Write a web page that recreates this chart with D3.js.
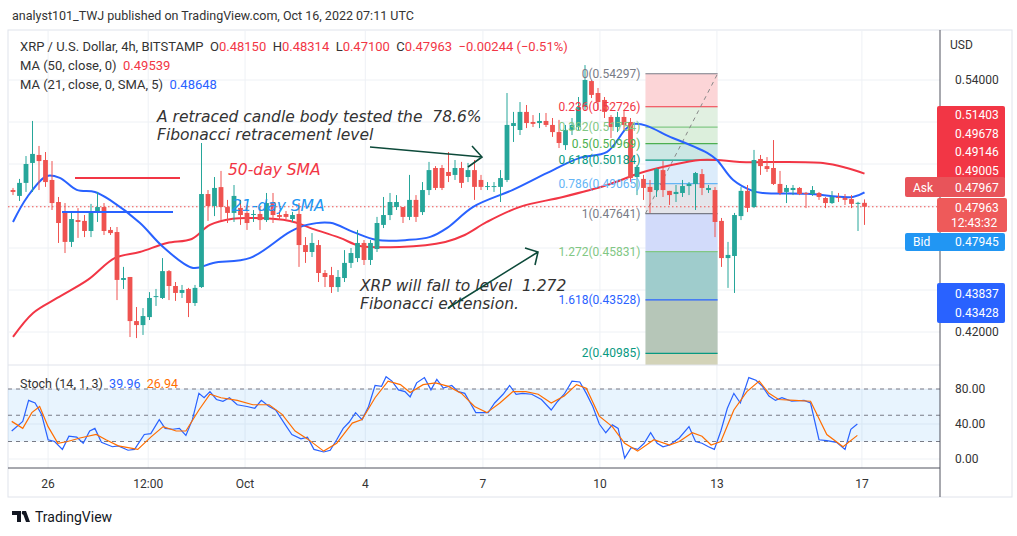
<!DOCTYPE html>
<html><head><meta charset="utf-8">
<script src="https://cdn.jsdelivr.net/npm/d3@7"></script>
<style>body{margin:0;background:#fff}svg{display:block}text{white-space:pre}</style>
</head><body>
<svg id="c" width="1017" height="536"></svg>
<script>
// ---------- DATA ----------
// 4h candles [open, high, low, close]
const candles = [
[.4876,.4886,.4852,.4867],[.4848,.4929,.4824,.4910],[.4910,.5038,.4867,.5000],[.5005,.5205,.4867,.5048],
[.5043,.5086,.4876,.5014],[.5019,.5057,.4891,.4914],[.4924,.5014,.4781,.4814],[.4819,.4843,.4624,.4719],
[.4776,.4814,.4576,.4629],[.4629,.4776,.4605,.4738],[.4733,.4790,.4648,.4724],[.4729,.4757,.4652,.4681],
[.4681,.4810,.4652,.4767],[.4767,.4867,.4724,.4795],[.4795,.4814,.4662,.4681],[.4686,.4700,.4662,.4671],
[.4676,.4700,.4352,.4448],[.4448,.4510,.4405,.4457],[.4462,.4462,.4176,.4252],[.4252,.4319,.4171,.4233],
[.4233,.4314,.4186,.4276],[.4271,.4390,.4257,.4362],[.4367,.4405,.4324,.4371],[.4362,.4552,.4357,.4490],
[.4490,.4495,.4352,.4419],[.4419,.4438,.4348,.4386],[.4386,.4424,.4362,.4400],[.4405,.4410,.4271,.4338],
[.4338,.4424,.4324,.4410],[.4414,.5100,.4410,.4857],[.4857,.4876,.4729,.4800],[.4800,.4938,.4752,.4886],
[.4890,.4967,.4733,.4795],[.4795,.4829,.4719,.4767],[.4767,.4900,.4724,.4848],[.4791,.4829,.4710,.4757],
[.4767,.4805,.4686,.4719],[.4757,.4781,.4724,.4762],[.4762,.4795,.4686,.4733],[.4733,.4862,.4724,.4814],
[.4819,.4862,.4719,.4757],[.4757,.4781,.4733,.4748],[.4762,.4776,.4738,.4748],[.4738,.4772,.4724,.4757],
[.4762,.4814,.4510,.4614],[.4614,.4652,.4529,.4581],[.4581,.4671,.4557,.4624],[.4614,.4638,.4438,.4481],
[.4481,.4495,.4414,.4462],[.4471,.4510,.4386,.4414],[.4414,.4495,.4391,.4462],[.4457,.4590,.4438,.4529],
[.4529,.4600,.4505,.4576],[.4552,.4686,.4533,.4624],[.4624,.4638,.4519,.4543],[.4543,.4638,.4519,.4624],
[.4595,.4748,.4581,.4719],[.4710,.4843,.4695,.4757],[.4757,.4862,.4733,.4819],[.4795,.4852,.4781,.4819],
[.4795,.4795,.4719,.4748],[.4748,.4948,.4733,.4829],[.4829,.4852,.4724,.4748],[.4771,.4914,.4757,.4876],
[.4876,.5010,.4852,.4971],[.4981,.4990,.4876,.4886],[.4981,.4995,.4876,.4886],[.4962,.5057,.4914,.4943],
[.4948,.5019,.4924,.4981],[.4981,.5010,.4886,.4910],[.4938,.5005,.4914,.4971],[.4971,.5019,.4829,.4891],
[.4924,.4948,.4876,.4891],[.4891,.4914,.4876,.4895],[.4891,.4914,.4867,.4895],[.4891,.4971,.4819,.4933],
[.4924,.5338,.4914,.5186],[.5181,.5248,.5105,.5195],[.5162,.5295,.5138,.5248],[.5248,.5281,.5171,.5195],
[.5200,.5233,.5176,.5191],[.5195,.5243,.5171,.5205],[.5205,.5243,.5176,.5186],[.5186,.5219,.5129,.5152],
[.5152,.5210,.5076,.5100],[.5090,.5186,.5067,.5162],[.5162,.5219,.5138,.5186],[.5176,.5319,.5162,.5271],
[.5271,.5471,.5257,.5400],[.5395,.5400,.5314,.5329],[.5338,.5362,.5257,.5295],[.5305,.5319,.5219,.5248],
[.5224,.5233,.5124,.5176],[.5176,.5248,.5152,.5224],[.5224,.5257,.5162,.5186],[.5200,.5219,.4914,.4933],
[.4938,.4995,.4852,.4986],[.4929,.4948,.4829,.4886],[.4891,.4924,.4767,.4867],[.4876,.4981,.4843,.4976],
[.4971,.5014,.4843,.4876],[.4872,.4872,.4805,.4852],[.4857,.4900,.4819,.4867],[.4862,.4924,.4843,.4895],
[.4895,.4914,.4852,.4905],[.4905,.4962,.4781,.4957],[.4952,.4976,.4852,.4886],[.4876,.4900,.4862,.4886],
[.4876,.4890,.4652,.4724],[.4729,.4743,.4510,.4552],[.4552,.4629,.4410,.4567],[.4562,.4767,.4386,.4757],
[.4752,.4890,.4733,.4872],[.4872,.4900,.4771,.4791],[.4795,.5067,.4790,.5019],[.5024,.5043,.4948,.4990],
[.4990,.5033,.4962,.4976],[.4981,.5114,.4900,.4905],[.4905,.4967,.4852,.4862],[.4867,.4900,.4814,.4886],
[.4876,.4900,.4852,.4886],[.4886,.4890,.4852,.4857],[.4862,.4867,.4790,.4857],[.4857,.4895,.4848,.4876],
[.4862,.4867,.4829,.4843],[.4838,.4843,.4790,.4814],[.4814,.4871,.4810,.4843],[.4843,.4862,.4819,.4838],
[.4838,.4857,.4805,.4829],[.4833,.4852,.4790,.4810],[.4810,.4820,.4681,.4815],[.48150,.48314,.47100,.47963]
];
// moving averages sampled [candle index, value]
const ma50 = [[0,.4177],[3.1,.4291],[6.8,.4362],[11.5,.4448],[15.7,.4553],[19.5,.4581],[23.7,.4624],[27.5,.4643],
[30.3,.4710],[33.8,.4739],[36.5,.4743],[42.6,.4729],[45.7,.4696],[50.3,.4648],[53.4,.4610],[59.5,.4605],
[66.5,.4629],[69.5,.4662],[72.9,.4724],[78,.4796],[84.6,.4843],[91.4,.4900],[96.5,.4957],[101.5,.4996],
[105.7,.5019],[108.3,.5019],[111.8,.5010],[124.6,.5005],[128.3,.4981],[131,.4954]];
const ma21 = [[0,.4724],[2.2,.4843],[5.2,.4943],[7.2,.4934],[9.8,.4877],[12.6,.4867],[14.9,.4829],[19.5,.4720],
[23.1,.4605],[27.7,.4505],[30.8,.4529],[36.5,.4553],[42.6,.4677],[45.2,.4710],[48.8,.4720],[52.3,.4677],
[56,.4638],[60.6,.4638],[64.2,.4653],[66.8,.4696],[70.8,.4796],[76.9,.4877],[82.2,.4958],[87.2,.5029],
[91.4,.5058],[95.4,.5190],[101.5,.5124],[106.8,.5053],[108.3,.5019],[110.8,.4924],[113.8,.4872],
[115.4,.4862],[122.2,.4858],[129.2,.4843],[131,.4865]];
const stochK = [[-0.2,32],[1.5,43],[2.4,67],[3.4,64],[4.4,51],[5.4,22],[6.4,20],[7.6,11],[8.6,26],[9.8,25],[10.8,18],
[11.8,32],[12.6,35],[13.6,19],[15.3,14],[16.2,15],[17.7,10],[18.7,11],[20.2,28],[21.2,29],[22.5,45],[23.4,35],
[24.6,34],[25.6,35],[26.6,27],[27.6,45],[28.6,75],[29.4,70],[30.3,77],[31.3,68],[32.3,66],[33.3,70],[34.5,62],
[36,60],[37.2,58],[38.2,67],[39.4,60],[40.4,56],[41.9,39],[42.9,28],[44.3,23],[45.3,25],[46.3,11],[47.8,8],
[48.8,10],[49.8,22],[50.8,35],[51.7,42],[52.7,53],[53.7,45],[54.7,60],[55.7,84],[56.7,83],[57.4,94],[58.3,89],
[59.3,79],[60.3,77],[61.1,71],[62.1,87],[63.3,93],[64.3,79],[65.2,91],[66.2,81],[67.5,84],[68.5,77],[69.5,75],
[70.2,66],[71.2,53],[72.1,53],[73.1,53],[74.1,64],[75.4,74],[76.4,84],[77.4,74],[78.4,75],[79.8,74],[81.3,68],
[82.8,56],[83.8,66],[84.8,74],[86,89],[87.2,88],[88.2,75],[89.2,60],[90.2,40],[91.2,30],[92.2,39],[93.1,35],
[94.1,1],[95.1,13],[96.1,11],[97.1,18],[98.1,30],[99.1,18],[100,14],[101,16],[102.5,24],[104,37],[105,20],
[106,18],[107,14],[107.9,11],[108.9,32],[109.9,58],[110.9,75],[111.9,64],[113.2,93],[114.3,90],[115.3,83],
[116.3,72],[117.3,67],[118.3,70],[119.8,66],[121.7,67],[122.7,64],[124,22],[125.2,21],[126.7,19],[128,11],
[128.9,34],[129.9,40]];
const stochD = [[-0.2,43],[1.5,35],[2.9,53],[4.1,60],[5.4,37],[6.9,18],[8.4,20],[10.3,24],[12.8,28],[14.3,22],
[16.2,15],[17.7,13],[19.2,11],[21.2,25],[23.1,37],[25.1,32],[26.6,32],[28.6,56],[30.3,74],[32,70],[34.5,67],
[36.9,62],[39.4,62],[41.4,51],[43.4,32],[45.3,23],[47.8,9],[49.8,18],[52.2,41],[53.7,45],[55.7,70],[57.7,89],
[59.6,85],[61.1,76],[63.1,85],[65,87],[67,83],[69,75],[71,60],[72.9,53],[74.9,64],[76.9,77],[78.9,77],[80.8,74],
[82.8,64],[84.8,72],[86.7,85],[88.2,81],[90.2,49],[92.2,37],[94.1,18],[96.1,9],[98.6,22],[101,16],[102.5,20],
[104.5,30],[106,26],[107.4,16],[108.9,20],[110.9,56],[112.9,77],[114.8,89],[116.3,75],[117.8,68],[120.3,67],
[122.7,66],[125.2,28],[127.7,14],[129.9,27]];
const fibRatios = ["0","0.236","0.382","0.5","0.618","0.786","1","1.272","1.618","2"];
const fibPrices = [.54297,.52726,.51754,.50969,.50184,.49065,.47641,.45831,.43528,.40985];
const fibColors = ["#787b86","#f23645","#81c784","#4caf50","#089981","#64b5f6","#787b86","#81c784","#2962ff","#089981"];
const fibFills = ["#fcd5d7","#e1f0e1","#dcefdc","#cbe7e4","#dcecfb","#e4e5ea","#d2dbfa","#9fcccc","#b6c6b8"];
const fibStartIdx = 97.3, fibEndIdx = 108.4;
const tickLabels = ["26","12:00","Oct","4","7","10","13","17"];
const tickIdx = [5.4,20.8,35.7,54.2,72.3,90.3,108.3,130.6];
const priceTicks = [.54,.52,.50,.48,.46,.44,.42];
const priceTickLabels = [.54,.42];
const stochTicks = [80,40,0];
const lastPrice = .47963;

// ---------- DRAW ----------
const svg = d3.select("#c");
const F = "Roboto, 'Open Sans', sans-serif";
const L = 8, R = 940, T = 30, MB = 365, SB = 468, BB = 497;
const x = d3.scaleLinear().domain([0,131]).range([13,864.5]);
const y = d3.scaleLinear().domain([0.42,0.54]).range([332,80]);
const ys = d3.scaleLinear().domain([0,80]).range([459,389]);
const grid = "#eef1f5";

svg.append("text").attr("x",12).attr("y",20).attr("font-family",F).attr("font-size",12.5).attr("fill","#333")
  .text("analyst101_TWJ published on TradingView.com, Oct 16, 2022 07:11 UTC");
svg.append("rect").attr("x",L).attr("y",T).attr("width",1012-L).attr("height",BB-T).attr("fill","none").attr("stroke","#e0e3eb");

const g = svg.append("g");
priceTicks.forEach(p=>g.append("line").attr("x1",L).attr("x2",R).attr("y1",y(p)).attr("y2",y(p)).attr("stroke",grid));
tickIdx.forEach(t=>g.append("line").attr("x1",x(t)).attr("x2",x(t)).attr("y1",T).attr("y2",SB).attr("stroke",grid));
stochTicks.forEach(v=>g.append("line").attr("x1",L).attr("x2",R).attr("y1",ys(v)).attr("y2",ys(v)).attr("stroke",grid));

// fib tool
const fx0 = x(fibStartIdx), fx1 = x(fibEndIdx);
fibFills.forEach((c,i)=>g.append("rect").attr("x",fx0).attr("width",fx1-fx0).attr("y",y(fibPrices[i])).attr("height",y(fibPrices[i+1])-y(fibPrices[i])).attr("fill",c));
g.append("rect").attr("x",fx0).attr("width",fx1-fx0).attr("y",y(fibPrices[9])).attr("height",MB-y(fibPrices[9])).attr("fill","#d3d3b8");
fibPrices.forEach((p,i)=>{
  g.append("line").attr("x1",fx0).attr("x2",fx1).attr("y1",y(p)).attr("y2",y(p)).attr("stroke",fibColors[i]).attr("stroke-width",1.2);
});
g.append("line").attr("x1",fx0).attr("y1",y(fibPrices[6])).attr("x2",fx1).attr("y2",y(fibPrices[0])).attr("stroke","#888").attr("stroke-dasharray","4,4");

// stoch band
svg.append("rect").attr("x",L).attr("width",R-L).attr("y",ys(80)).attr("height",ys(20)-ys(80)).attr("fill","#2196f3").attr("opacity",0.1);
[80,50,20].forEach(v=>svg.append("line").attr("x1",L).attr("x2",R).attr("y1",ys(v)).attr("y2",ys(v)).attr("stroke","#787b86").attr("stroke-dasharray","4,4"));
svg.append("line").attr("x1",L).attr("x2",R).attr("y1",MB).attr("y2",MB).attr("stroke","#e0e3eb");
svg.append("line").attr("x1",L).attr("x2",R).attr("y1",SB).attr("y2",SB).attr("stroke","#50535e");
svg.append("line").attr("x1",R).attr("x2",R).attr("y1",T).attr("y2",BB).attr("stroke","#50535e");

svg.append("line").attr("x1",L).attr("x2",R).attr("y1",y(lastPrice)).attr("y2",y(lastPrice)).attr("stroke","#ef5350").attr("stroke-dasharray","1.5,2.5");

// MAs
const line = d3.line().x(d=>x(d[0])).y(d=>y(d[1])).curve(d3.curveCatmullRom);
svg.append("path").attr("d",line(ma50)).attr("fill","none").attr("stroke","#f23645").attr("stroke-width",2);
svg.append("path").attr("d",line(ma21)).attr("fill","none").attr("stroke","#2962ff").attr("stroke-width",2);

// candles
const cg = svg.append("g");
candles.forEach((c,i)=>{
  const [o,h,l,cl]=c, col = cl>=o?"#26a69a":"#ef5350", cx=x(i);
  cg.append("line").attr("x1",cx).attr("x2",cx).attr("y1",y(h)).attr("y2",y(l)).attr("stroke",col).attr("stroke-width",1);
  const top=y(Math.max(o,cl)), bot=y(Math.min(o,cl));
  cg.append("rect").attr("x",cx-2.4).attr("width",4.8).attr("y",top).attr("height",Math.max(1,bot-top)).attr("fill",col);
});

// stoch lines
const sl = d3.line().x(d=>x(d[0])).y(d=>ys(d[1]));
svg.append("path").attr("d",sl(stochK)).attr("fill","none").attr("stroke","#2962ff").attr("stroke-width",1.2);
svg.append("path").attr("d",sl(stochD)).attr("fill","none").attr("stroke","#ff6d00").attr("stroke-width",1.2);

// fib labels
fibPrices.forEach((p,i)=>{
  svg.append("text").attr("x",fx0-5).attr("y",y(p)+4).attr("text-anchor","end").attr("font-family",F).attr("font-size",12)
   .attr("fill",fibColors[i]).text(fibRatios[i]+"("+p.toFixed(5)+")");
});

// header legend
function legend(yy, parts, fs){
  const t=svg.append("text").attr("x",20).attr("y",yy).attr("font-family",F).attr("font-size",fs||13);
  parts.forEach(([s,c])=>t.append("tspan").attr("fill",c).text(s));
}
const o=candles[candles.length-1];
legend(51,[["XRP / U.S. Dollar, 4h, BITSTAMP  ","#333"],["O","#333"],[o[0].toFixed(5),"#f23645"],["  H","#333"],[o[1].toFixed(5),"#f23645"],
 ["  L","#333"],[o[2].toFixed(5),"#f23645"],["  C","#333"],[o[3].toFixed(5),"#f23645"],["  −0.00244 (−0.51%)","#f23645"]]);
legend(70,[["MA (50, close, 0)  ","#333"],["0.49539","#f23645"]]);
legend(89,[["MA (21, close, 0, SMA, 5)  ","#333"],["0.48648","#2962ff"]]);
legend(388,[["Stoch (14, 1, 3)  ","#333"],["39.96","#2962ff"],["  ","#333"],["26.94","#ff6d00"]],12.5);

// annotations
const AF = "'DejaVu Sans', sans-serif";
function ann(tx,xx,yy,c,fs){svg.append("text").attr("x",xx).attr("y",yy).attr("font-family",AF).attr("font-style","italic").attr("font-size",fs||15.5).attr("fill",c).text(tx);}
ann("A retraced candle body tested the  78.6%",157,122,"#333");
ann("Fibonacci retracement level",157,140,"#333");
ann("50-day SMA",228,175,"#f23645",15.5);
ann("21-day SMA",232,211,"#2196f3",15.5);
ann("XRP will fall to level  1.272",360,291,"#333");
ann("Fibonacci extension.",360,309,"#333");
svg.append("line").attr("x1",75).attr("x2",180).attr("y1",178).attr("y2",178).attr("stroke","#f23645").attr("stroke-width",2);
svg.append("line").attr("x1",62).attr("x2",173).attr("y1",212).attr("y2",212).attr("stroke","#2962ff").attr("stroke-width",2);
const AC="#0d4a3a";
svg.append("path").attr("d","M370,147 L482,157 M472,146 L482,157 L468,167").attr("stroke",AC).attr("stroke-width",1.6).attr("fill","none");
svg.append("path").attr("d","M448,308 L538,252 M525,248 L538,252 L535,265").attr("stroke",AC).attr("stroke-width",1.6).attr("fill","none");

// axis labels
const ax = svg.append("g").attr("font-family",F).attr("font-size",12).attr("fill","#333");
ax.append("text").attr("x",950).attr("y",49).text("USD");
priceTickLabels.forEach(p=>ax.append("text").attr("x",955).attr("y",y(p)+4).text(p.toFixed(5)));
stochTicks.forEach(v=>ax.append("text").attr("x",955).attr("y",ys(v)+4).text(v.toFixed(2)));
tickLabels.forEach((t,i)=>ax.append("text").attr("x",x(tickIdx[i])).attr("y",488).attr("text-anchor","middle").text(t));

// price boxes
function box(x0,y0,w,h,fill){svg.append("rect").attr("x",x0).attr("y",y0).attr("width",w).attr("height",h).attr("rx",2).attr("fill",fill);}
function btxt(t,xx,yy){svg.append("text").attr("x",xx).attr("y",yy).attr("font-family",F).attr("font-size",12).attr("fill","#fff").text(t);}
box(937,106,68,74,"#f23645");
[["0.51403",119],["0.49678",138],["0.49146",156],["0.49005",175]].forEach(d=>btxt(d[0],955,d[1]));
box(905,177,100,20,"#e8545a"); btxt("Ask",913,192); btxt("0.47967",955,192);
box(937,198,70,34,"#ee5a5a"); btxt("0.47963",955,212); btxt("12:43:32",951,227);
box(905,233,100,18,"#2196f3"); btxt("Bid",913,246); btxt("0.47945",955,246);
box(937,283,68,40,"#2962ff"); btxt("0.43837",955,298); btxt("0.43428",955,317);

// footer
svg.append("path").attr("d","M12,511 h9 v11 h-4 v-7 h-5z M22,511 h4 l4,11 h-4z").attr("fill","#131722");
svg.append("circle").attr("cx",23.5).attr("cy",513).attr("r",1.8).attr("fill","#131722");
svg.append("text").attr("x",35).attr("y",522).attr("font-family",F).attr("font-size",14).attr("fill","#131722").text("TradingView");
</script>
</body></html>
